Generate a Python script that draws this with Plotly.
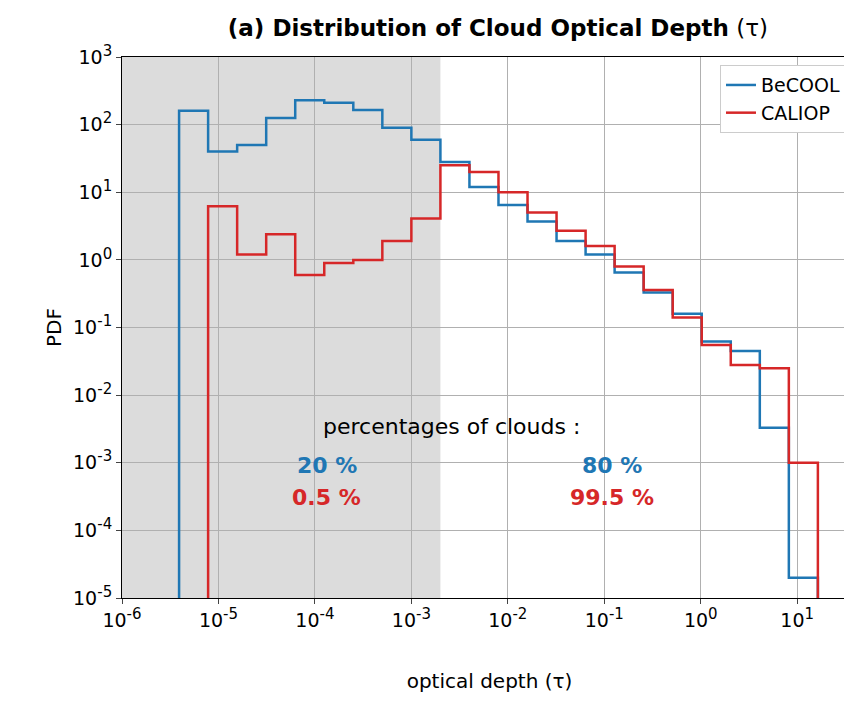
import plotly.graph_objects as go

# bin edges: 2^k / 1000, k = -8 .. 14
edges = [2.0 ** k / 1000 for k in range(-8, 15)]

becool = [160, 40, 50, 125, 230, 210, 165, 90, 60, 28, 12, 6.5, 3.7, 1.9, 1.2,
          0.65, 0.33, 0.16, 0.062, 0.045, 0.0033, 2e-5]
caliop = [None, 6.2, 1.2, 2.4, 0.6, 0.9, 1.0, 1.9, 4.1, 25, 20, 10, 5, 2.7, 1.6,
          0.8, 0.36, 0.14, 0.055, 0.028, 0.025, 0.001]

BLUE = "#1f77b4"
RED = "#d62728"


def step(vals):
    xs, ys = [], []
    first = True
    for i, v in enumerate(vals):
        if v is None:
            continue
        if first:
            xs.append(edges[i]); ys.append(1e-7)
            first = False
        xs += [edges[i], edges[i + 1]]
        ys += [v, v]
    xs.append(xs[-1]); ys.append(1e-7)
    return xs, ys


fig = go.Figure()
for name, vals, col in [("BeCOOL", becool, BLUE), ("CALIOP", caliop, RED)]:
    x, y = step(vals)
    fig.add_trace(go.Scatter(x=x, y=y, mode="lines", name=name,
                             line=dict(color=col, width=2.5)))

fig.add_shape(type="rect", xref="x", yref="paper", x0=1e-6, x1=2e-3, y0=0, y1=1,
              fillcolor="#dcdcdc", line_width=0, layer="below")

fig.add_annotation(x=-2.58, y=-2.46, text="percentages of clouds :", showarrow=False,
                   font=dict(size=22, color="black"))
for xp, txt, yp, col in [(-3.875, "<b>20 %</b>", -3.04, BLUE), (-3.875, "<b>0.5 %</b>", -3.51, RED),
                         (-0.92, "<b>80 %</b>", -3.04, BLUE), (-0.92, "<b>99.5 %</b>", -3.51, RED)]:
    fig.add_annotation(x=xp, y=yp, text=txt, showarrow=False, font=dict(size=22, color=col))

xt = list(range(-6, 2))
yt = list(range(-5, 4))
sup = "10<sup><span style='font-size:15px'>%d</span></sup>"
fig.update_xaxes(type="log", range=[-6, 1.62], tickvals=[10.0 ** k for k in xt],
                 ticktext=[sup % k for k in xt], showgrid=True, automargin=False,
                 gridcolor="#b0b0b0", showline=True, linecolor="black", mirror=True,
                 ticks="outside", title=dict(text="optical depth (τ)", standoff=44, font=dict(size=20)),
                 zeroline=False)
fig.update_yaxes(type="log", range=[-5, 3], tickvals=[10.0 ** k for k in yt],
                 ticktext=[sup % k for k in yt], showgrid=True, automargin=False,
                 gridcolor="#b0b0b0", showline=True, linecolor="black", mirror=True,
                 ticks="outside", title=dict(text="PDF", standoff=6, font=dict(size=20)),
                 zeroline=False)
fig.update_layout(
    width=852, height=703, plot_bgcolor="white", paper_bgcolor="white",
    font=dict(family="DejaVu Sans", size=19, color="black"),
    title=dict(text="<b>(a) Distribution of Cloud Optical Depth</b> (τ)", x=0.575,
               xanchor="center", y=0.972, yanchor="middle", font=dict(size=23)),
    margin=dict(l=114, r=3, t=49, b=113, autoexpand=False),
    legend=dict(x=0.985, y=0.985, xanchor="right", yanchor="top", bgcolor="white",
                bordercolor="#cccccc", borderwidth=1, font=dict(size=19)),
)
fig.write_html("out.html")
